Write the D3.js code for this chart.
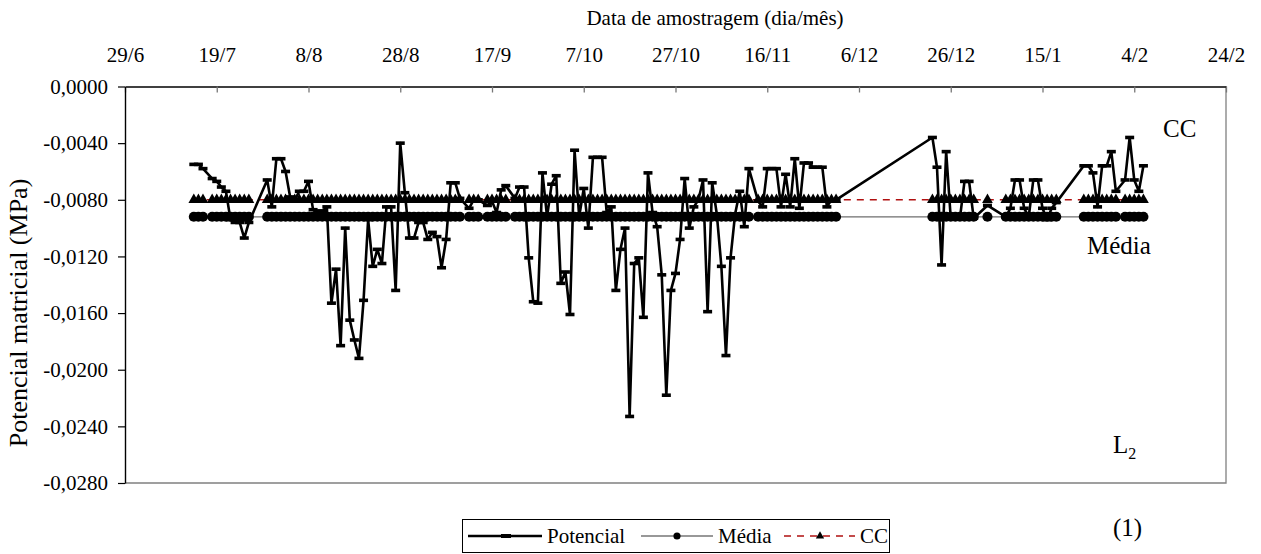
<!DOCTYPE html>
<html><head><meta charset="utf-8">
<script src="https://cdn.jsdelivr.net/npm/d3@7"></script>
<style>
body{margin:0;background:#fff}
svg{display:block}
text{font-family:"Liberation Serif","Times New Roman",serif;fill:#000}
</style>
</head><body><svg id="c" width="1261" height="554"></svg>
<script>
// ---- data ----
const inicio = "2004-06-29";
const fim = "2005-02-24";
const xTickDates = ["2004-06-29","2004-07-19","2004-08-08","2004-08-28","2004-09-17","2004-10-07","2004-10-27","2004-11-16","2004-12-06","2004-12-26","2005-01-15","2005-02-04","2005-02-24"];
const yTicks = [0,-0.004,-0.008,-0.012,-0.016,-0.020,-0.024,-0.028];
// sampling days, counted from 29/6
const diasAmostragem = [15,16,17,19,20,21,22,23,24,25,26,27,
 31,32,33,34,35,36,37,38,39,40,41,42,43,44,45,46,47,48,49,50,51,52,53,54,55,56,57,58,59,60,
 61,62,63,64,65,66,67,68,69,70,71,72,73,75,76,77,79,80,81,82,83,
 85,86,87,88,89,90,91,92,93,94,95,96,97,98,99,100,101,102,103,104,105,106,107,108,109,110,
 111,112,113,114,115,116,117,118,119,120,121,122,123,124,125,126,127,128,129,130,131,132,133,134,135,136,
 138,139,140,141,142,143,144,145,146,147,148,149,150,151,152,153,154,155,
 176,177,178,179,180,181,182,183,184,185,188,
 192,193,194,195,196,197,198,199,200,201,202,203,
 209,210,211,212,213,214,215,216,218,219,220,221,222];
const potencial = [-0.0055,-0.0055,-0.0058,-0.0065,-0.0067,-0.0071,-0.0074,-0.0094,-0.0096,-0.0096,-0.0107,-0.0096,
 -0.0066,-0.0085,-0.0051,-0.0051,-0.0060,-0.0078,-0.0080,-0.0074,-0.0074,-0.0067,-0.0087,-0.0088,-0.0088,-0.0085,-0.0153,-0.0129,-0.0183,-0.0100,-0.0165,-0.0179,-0.0192,-0.0151,-0.0094,-0.0127,-0.0115,-0.0125,-0.0085,-0.0085,-0.0144,-0.0040,
 -0.0075,-0.0107,-0.0107,-0.0096,-0.0096,-0.0108,-0.0103,-0.0106,-0.0128,-0.0108,-0.0068,-0.0068,-0.0079,-0.0086,-0.0080,-0.0080,-0.0084,-0.0081,-0.0089,-0.0073,-0.0070,
 -0.0079,-0.0071,-0.0071,-0.0121,-0.0152,-0.0153,-0.0061,-0.0092,-0.0069,-0.0063,-0.0139,-0.0131,-0.0161,-0.0045,-0.0092,-0.0072,-0.0100,-0.0050,-0.0050,-0.0050,-0.0089,-0.0085,-0.0144,-0.0115,-0.0100,-0.0233,
 -0.0125,-0.0121,-0.0163,-0.0061,-0.0089,-0.0099,-0.0133,-0.0218,-0.0144,-0.0132,-0.0108,-0.0065,-0.0100,-0.0085,-0.0080,-0.0066,-0.0159,-0.0068,-0.0090,-0.0127,-0.0190,-0.0121,-0.0090,-0.0074,-0.0099,-0.0058,
 -0.0081,-0.0085,-0.0058,-0.0058,-0.0058,-0.0085,-0.0062,-0.0085,-0.0051,-0.0086,-0.0054,-0.0054,-0.0057,-0.0057,-0.0057,-0.0085,-0.0080,-0.0080,
 -0.0036,-0.0057,-0.0126,-0.0046,-0.0093,-0.0093,-0.0093,-0.0067,-0.0067,-0.0093,-0.0084,
 -0.0092,-0.0086,-0.0066,-0.0066,-0.0086,-0.0092,-0.0066,-0.0066,-0.0086,-0.0094,-0.0086,-0.0082,
 -0.0056,-0.0056,-0.0061,-0.0085,-0.0056,-0.0056,-0.0046,-0.0074,-0.0066,-0.0036,-0.0066,-0.0074,-0.0056];
const media = -0.0092;
const cc = -0.0080;
const legendItems = ["Potencial","Média","CC"];

// ---- layout ----
const L = 125, R = 1226, T = 86.5, B = 483;
const svg = d3.select("#c");
const parse = d3.utcParse("%Y-%m-%d");
const t0 = parse(inicio);
const x = d3.scaleUtc().domain([t0, parse(fim)]).range([L, R]);
const y = d3.scaleLinear().domain([0, -0.028]).range([T, B]);
const loc = d3.formatLocale({decimal:",", thousands:".", grouping:[3], currency:["",""], minus:"-"});
const fy = loc.format(".4f");

const pts = diasAmostragem.map((d,i) => ({date: d3.utcDay.offset(t0, d), p: potencial[i]}));

// plot border (right/bottom)
svg.append("path")
  .attr("d", `M${L},${B}H${R}V${T}`)
  .attr("fill","none").attr("stroke","#808080").attr("stroke-width",1.3);

// top axis
const gx = svg.append("g").attr("transform",`translate(0,${T})`)
  .call(d3.axisTop(x).tickValues(xTickDates.map(parse)).tickFormat(d3.utcFormat("%-d/%-m"))
    .tickSizeInner(-6).tickSizeOuter(0).tickPadding(24.5));
gx.select(".domain").attr("stroke","#000").attr("stroke-width",1.4);
gx.selectAll(".tick line").attr("stroke","#777").attr("stroke-width",1.3);
gx.selectAll(".tick text").style("font-size","21px").style("font-family",'"Liberation Serif",serif');

// left axis
const gy = svg.append("g").attr("transform",`translate(${L},0)`)
  .call(d3.axisLeft(y).tickValues(yTicks).tickFormat(fy).tickSize(7).tickSizeOuter(0).tickPadding(10));
gy.select(".domain").attr("stroke","#000").attr("stroke-width",1.4);
gy.selectAll(".tick line").attr("stroke","#000").attr("stroke-width",1.2);
gy.selectAll(".tick text").style("font-size","21px").style("font-family",'"Liberation Serif",serif');

// titles
svg.append("text").attr("x",715).attr("y",25).attr("text-anchor","middle")
  .style("font-size","21px").text("Data de amostragem (dia/mês)");
svg.append("text").attr("transform","translate(27,313) rotate(-90)").attr("text-anchor","middle")
  .style("font-size","26px").text("Potencial matricial (MPa)");

// series lines
const plot = svg.append("g");
plot.append("path").datum(pts)
  .attr("d", d3.line().x(d=>x(d.date)).y(()=>y(media)))
  .attr("fill","none").attr("stroke","#6e6e6e").attr("stroke-width",1.3);
plot.append("path").datum(pts)
  .attr("d", d3.line().x(d=>x(d.date)).y(()=>y(cc)))
  .attr("fill","none").attr("stroke","#b01010").attr("stroke-width",1.4).attr("stroke-dasharray","7,6");

// Potencial line
plot.append("path").datum(pts)
  .attr("d", d3.line().x(d=>x(d.date)).y(d=>y(d.p)))
  .attr("fill","none").attr("stroke","#000").attr("stroke-width",2.6).attr("stroke-linejoin","round");

// Média markers
plot.append("g").selectAll("path").data(pts).join("path")
  .attr("transform", d=>`translate(${x(d.date)},${y(media)})`)
  .attr("d", d3.symbol(d3.symbolCircle, 80)).attr("fill","#000");
// CC markers
plot.append("g").selectAll("path").data(pts).join("path")
  .attr("transform", d=>`translate(${x(d.date)},${y(cc)})`)
  .attr("d", d3.symbol(d3.symbolTriangle, 50)).attr("fill","#000");
// Potencial markers
plot.append("g").selectAll("rect").data(pts).join("rect")
  .attr("x", d=>x(d.date)-4.5).attr("y", d=>y(d.p)-1.8)
  .attr("width",9).attr("height",3.6).attr("fill","#000");

// annotations
svg.append("text").attr("x",1163).attr("y",137).style("font-size","25px").text("CC");
svg.append("text").attr("x",1087).attr("y",254).style("font-size","25px").text("Média");
const l2 = svg.append("text").attr("x",1113).attr("y",453).style("font-size","25px");
l2.append("tspan").text("L");
l2.append("tspan").attr("dy",6).style("font-size","16px").text("2");
svg.append("text").attr("x",1113).attr("y",536).style("font-size","25px").text("(1)");

// legend
const lg = svg.append("g");
lg.append("rect").attr("x",462.5).attr("y",519.5).attr("width",427).attr("height",33)
  .attr("fill","#fff").attr("stroke","#000").attr("stroke-width",1);
const ly = 536;
lg.append("line").attr("x1",468).attr("x2",542).attr("y1",ly).attr("y2",ly).attr("stroke","#000").attr("stroke-width",2.6);
lg.append("rect").attr("x",501).attr("y",ly-2).attr("width",10).attr("height",4).attr("fill","#000");
lg.append("text").attr("x",547).attr("y",543).style("font-size","21px").text(legendItems[0]);
lg.append("line").attr("x1",641).attr("x2",713).attr("y1",ly).attr("y2",ly).attr("stroke","#333").attr("stroke-width",1.2);
lg.append("path").attr("transform",`translate(677,${ly})`).attr("d", d3.symbol(d3.symbolCircle, 40)).attr("fill","#000");
lg.append("text").attr("x",718).attr("y",543).style("font-size","21px").text(legendItems[1]);
lg.append("line").attr("x1",784).attr("x2",855).attr("y1",ly).attr("y2",ly).attr("stroke","#b01010").attr("stroke-width",1.4).attr("stroke-dasharray","7,6");
lg.append("path").attr("transform",`translate(820,${ly})`).attr("d", d3.symbol(d3.symbolTriangle, 30)).attr("fill","#000");
lg.append("text").attr("x",860).attr("y",543).style("font-size","21px").text(legendItems[2]);
</script>
</body></html>
